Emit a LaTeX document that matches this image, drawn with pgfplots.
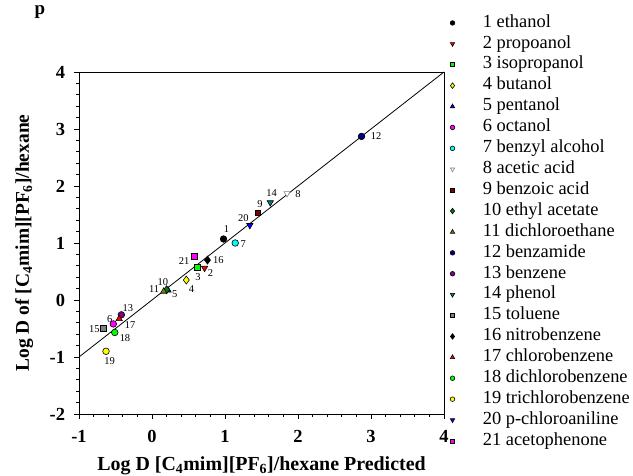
\documentclass[border=0pt]{standalone}
\usepackage{fontspec}
\setmainfont{Liberation Serif}
\usepackage{pgfplots}
\pgfplotsset{compat=1.18}
\usetikzlibrary{calc}

\definecolor{spGreen}{RGB}{0,255,0}
\definecolor{spDkGreen}{RGB}{0,128,0}
\definecolor{spOlive}{RGB}{128,128,0}
\definecolor{spNavy}{RGB}{0,0,128}
\definecolor{spPurple}{RGB}{128,0,128}
\definecolor{spTeal}{RGB}{0,128,128}
\definecolor{spMaroon}{RGB}{128,0,0}
\definecolor{spGray}{RGB}{128,128,128}
\definecolor{spCyan}{RGB}{0,255,255}
\definecolor{spYellow}{RGB}{255,255,0}
\definecolor{spMagenta}{RGB}{255,0,255}

\pgfplotsset{
  pt/.style={only marks, draw=black, mark size=3.3bp, line width=0.6bp},
  circ/.style={pt, mark=*},
  sq/.style={pt, mark=square*, mark size=2.8bp},
  dia/.style={pt, mark=diamond*, mark size=4bp},
  tup/.style={pt, mark=triangle*, mark size=3.6bp},
  tdn/.style={pt, mark=triangle*, mark size=3.6bp, mark options={rotate=180}},
}

\begin{document}
\begin{tikzpicture}
\begin{axis}[
  scale only axis, width=365bp, height=342bp,
  xmin=-1, xmax=4, ymin=-2, ymax=4,
  xtick={-1,0,...,4}, xticklabels={-1,0,1,2,3,4},
  ytick={-2,-1,...,4}, yticklabels={-2,-1,0,1,2,3,4},
  minor x tick num=4, minor y tick num=4,
  tick align=outside, xtick pos=bottom, ytick pos=left,
  major tick length=5bp, minor tick length=3bp,
  axis line style={line width=0.8bp},
  tick style={line width=0.7bp, black},
  tick label style={font=\fontsize{18.5}{18.5}\selectfont\bfseries},
  xticklabel style={yshift=-8bp},
  yticklabel style={xshift=-5.5bp},
  label style={font=\fontsize{19.5}{22}\selectfont\bfseries},
  xlabel={Log D [C\textsubscript{4}mim][PF\textsubscript{6}]/hexane Predicted},
  ylabel={Log D of [C\textsubscript{4}mim][PF\textsubscript{6}]/hexane},
  xlabel style={at={(axis description cs:0.5,0)}, anchor=base, yshift=-56.5bp,
    font=\fontsize{20}{22}\selectfont\bfseries},
  ylabel style={at={(axis description cs:-0.137,0.5)}, anchor=base},
  legend cell align=left,
  legend image code/.code={\draw[#1, every mark/.append style={scale=0.7}] plot coordinates {(0bp,0bp)};},
  legend style={at={(1,1)}, anchor=north west, xshift=6bp, yshift=58bp,
    draw=none, fill=none, inner sep=0pt,
    font=\fontsize{18.5}{20}\selectfont,
    row sep=3.4bp, column sep=28bp,
    nodes={inner sep=0pt, text height=13bp, text depth=4.5bp}},
  clip=false,
]
\addplot[black, line width=0.8bp, no marks, forget plot] coordinates {(-1,-1) (4,4)};

\addplot[circ, fill=black] coordinates {(0.98,1.07)};
\addlegendentry{1 ethanol}
\addplot[tdn, fill=red] coordinates {(0.72,0.56)};
\addlegendentry{2 propoanol}
\addplot[sq, fill=spGreen] coordinates {(0.62,0.57)};
\addlegendentry{3 isopropanol}
\addplot[dia, fill=spYellow] coordinates {(0.47,0.35)};
\addlegendentry{4 butanol}
\addplot[tup, fill=blue] coordinates {(0.22,0.17)};
\addlegendentry{5 pentanol}
\addplot[circ, fill=spMagenta] coordinates {(-0.53,-0.42)};
\addlegendentry{6 octanol}
\addplot[circ, fill=spCyan] coordinates {(1.14,1.00)};
\addlegendentry{7 benzyl alcohol}
\addplot[tdn, fill=white, draw=spGray] coordinates {(1.85,1.87)};
\addlegendentry{8 acetic acid}
\addplot[sq, fill=spMaroon] coordinates {(1.45,1.53)};
\addlegendentry{9 benzoic acid}
\addplot[dia, fill=spDkGreen] coordinates {(0.20,0.18)};
\addlegendentry{10 ethyl acetate}
\addplot[tup, fill=spOlive] coordinates {(0.16,0.15)};
\addlegendentry{11 dichloroethane}
\addplot[circ, fill=spNavy] coordinates {(2.87,2.87)};
\addlegendentry{12 benzamide}
\addplot[circ, fill=spPurple] coordinates {(-0.42,-0.26)};
\addlegendentry{13 benzene}
\addplot[tdn, fill=spTeal] coordinates {(1.62,1.71)};
\addlegendentry{14 phenol}
\addplot[sq, fill=spGray] coordinates {(-0.67,-0.50)};
\addlegendentry{15 toluene}
\addplot[dia, fill=black] coordinates {(0.76,0.70)};
\addlegendentry{16 nitrobenzene}
\addplot[tup, fill=red] coordinates {(-0.45,-0.33)};
\addlegendentry{17 chlorobenzene}
\addplot[circ, fill=spGreen] coordinates {(-0.51,-0.57)};
\addlegendentry{18 dichlorobenzene}
\addplot[circ, fill=spYellow] coordinates {(-0.63,-0.90)};
\addlegendentry{19 trichlorobenzene}
\addplot[tdn, fill=blue] coordinates {(1.34,1.31)};
\addlegendentry{20 p-chloroaniline}
\addplot[sq, fill=spMagenta] coordinates {(0.58,0.77)};
\addlegendentry{21 acetophenone}

\begin{scope}[every node/.style={font=\fontsize{10.5}{10.5}\selectfont, inner sep=0pt}]
\node at (axis cs:1.02,1.24) {1};
\node at (axis cs:0.80,0.47) {2};
\node at (axis cs:0.63,0.41) {3};
\node at (axis cs:0.54,0.20) {4};
\node at (axis cs:0.31,0.10) {5};
\node at (axis cs:-0.58,-0.33) {6};
\node at (axis cs:1.25,0.98) {7};
\node at (axis cs:2.00,1.86) {8};
\node at (axis cs:1.48,1.68) {9};
\node at (axis cs:0.15,0.32) {10};
\node at (axis cs:0.03,0.19) {11};
\node at (axis cs:3.07,2.87) {12};
\node at (axis cs:-0.33,-0.14) {13};
\node at (axis cs:1.64,1.87) {14};
\node at (axis cs:-0.79,-0.51) {15};
\node at (axis cs:0.91,0.70) {16};
\node at (axis cs:-0.30,-0.44) {17};
\node at (axis cs:-0.37,-0.67) {18};
\node at (axis cs:-0.58,-1.08) {19};
\node at (axis cs:1.25,1.43) {20};
\node at (axis cs:0.44,0.68) {21};
\end{scope}
\end{axis}
\node[anchor=base, font=\fontsize{19}{19}\selectfont\bfseries] at ($(current axis.north west)+(-39bp,57bp)$) {p};
\pgfresetboundingbox
\path[use as bounding box] ($(current axis.south west)+(-79bp,-62bp)$) rectangle ($(current axis.north east)+(189bp,72bp)$);
\end{tikzpicture}
\end{document}
